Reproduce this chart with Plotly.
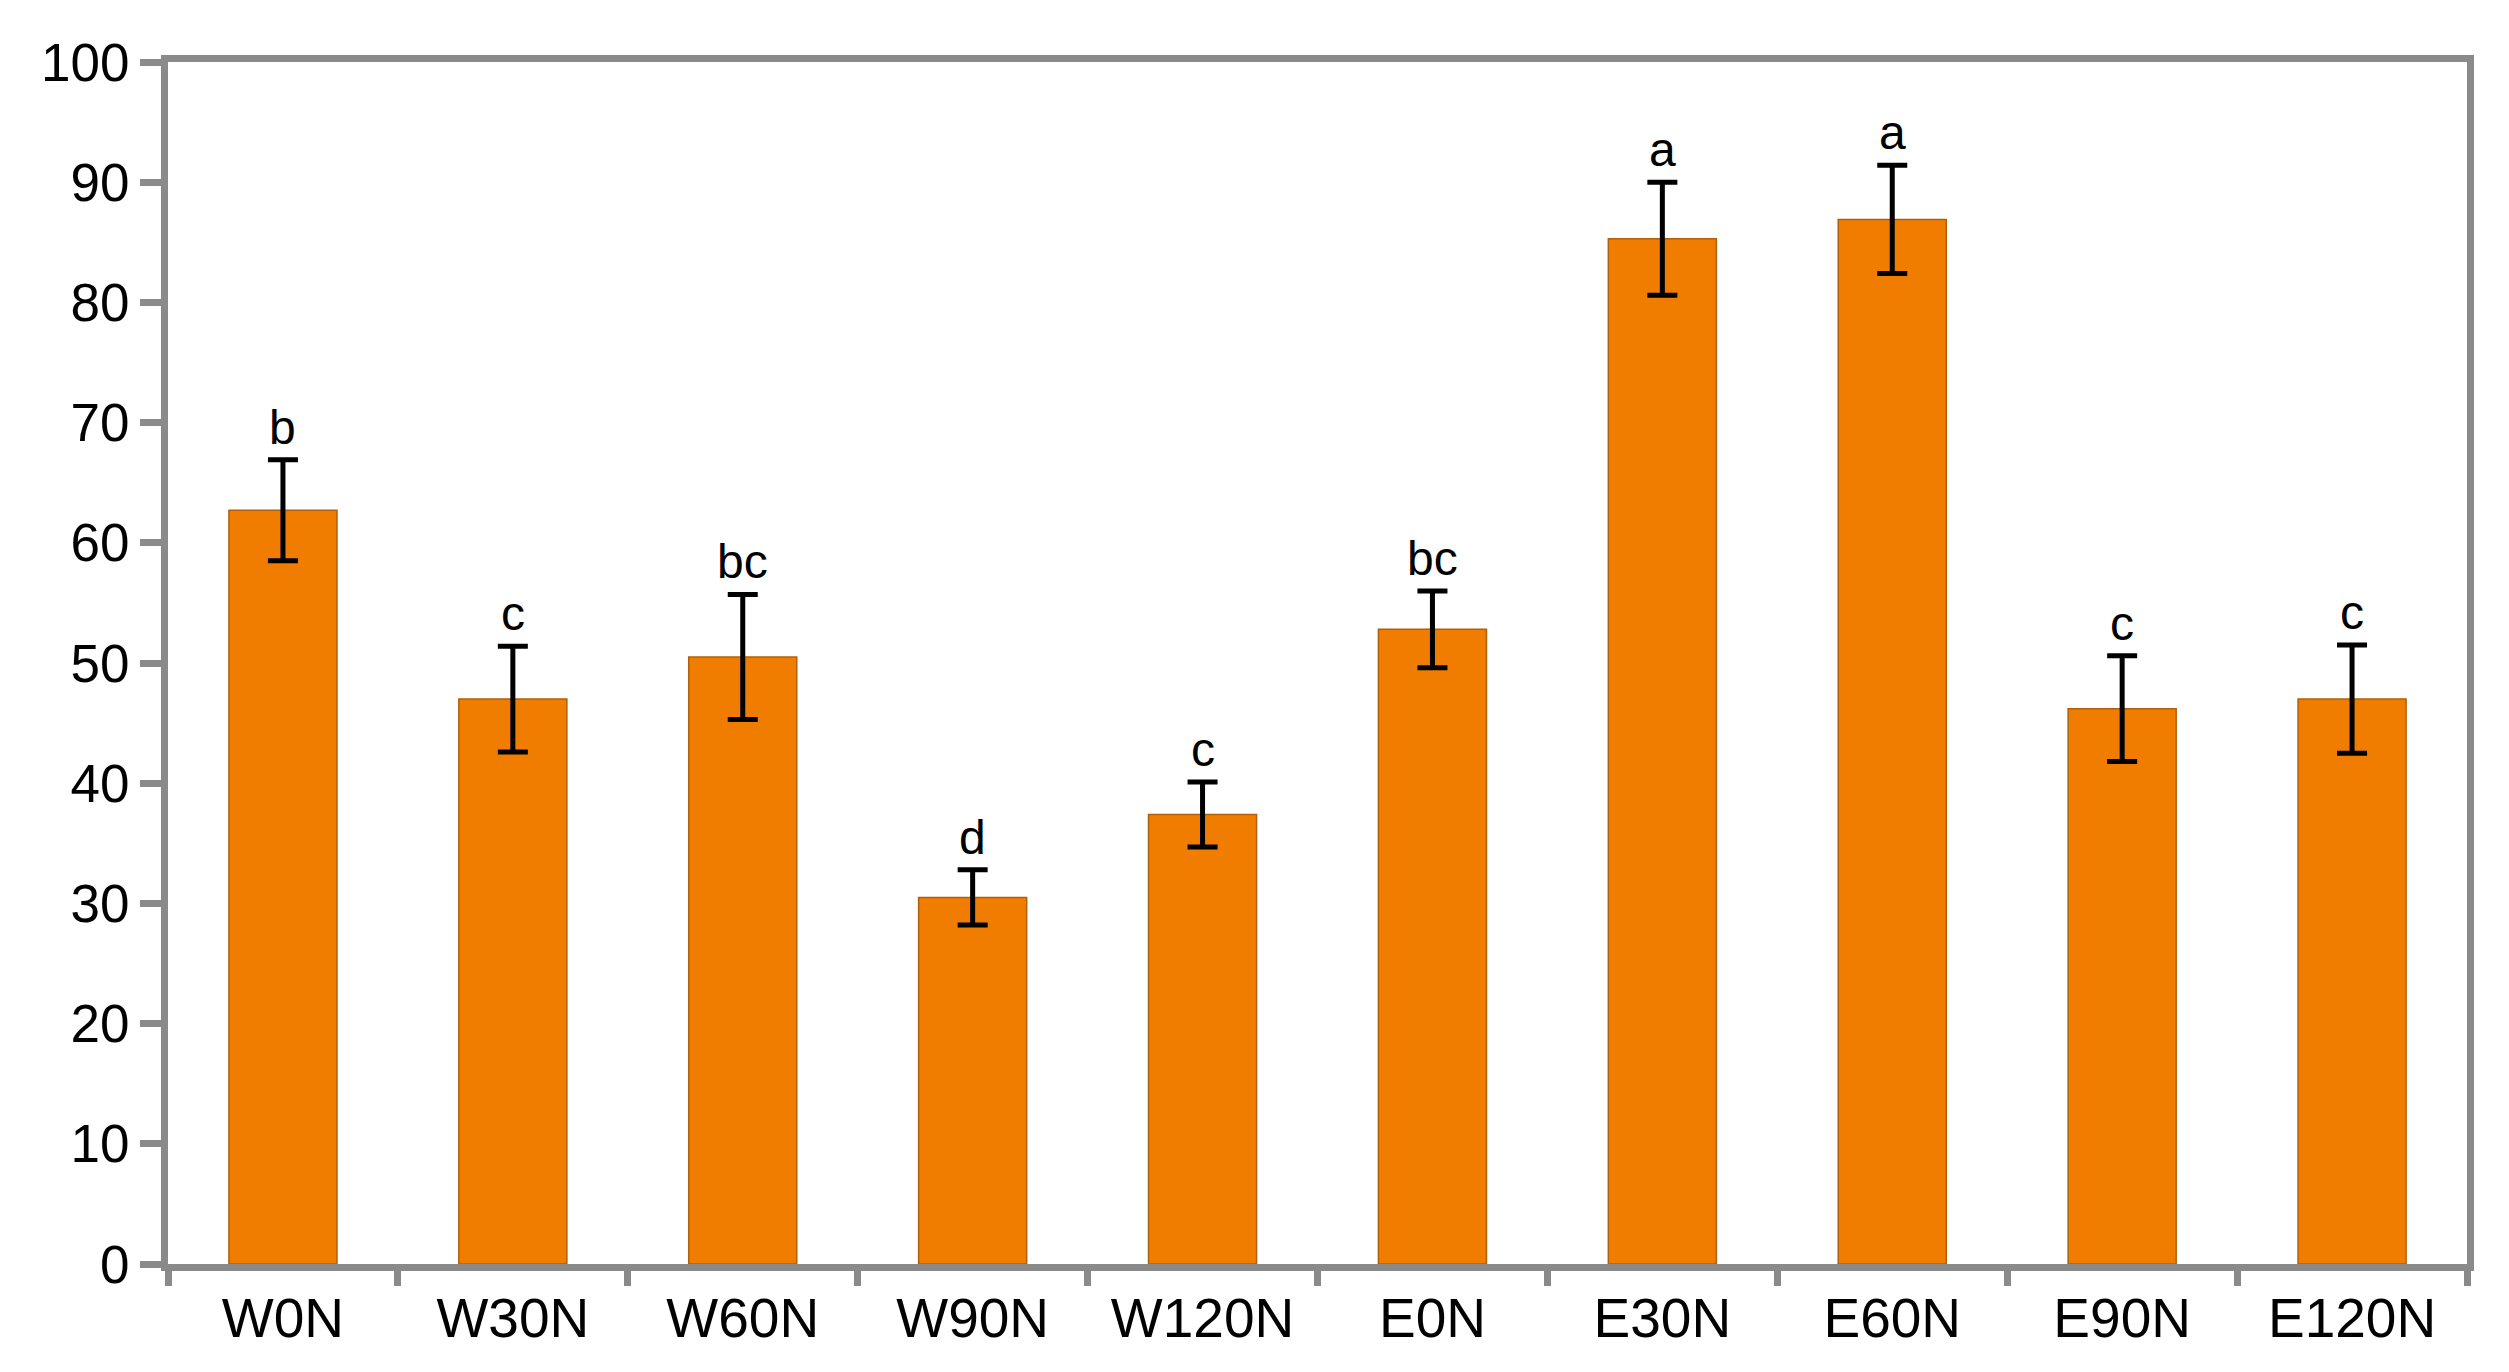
import plotly.graph_objects as go

categories = ["W0N", "W30N", "W60N", "W90N", "W120N", "E0N", "E30N", "E60N", "E90N", "E120N"]
values = [62.7, 47.0, 50.5, 30.5, 37.4, 52.8, 85.3, 86.9, 46.2, 47.0]
errors = [4.2, 4.4, 5.2, 2.3, 2.7, 3.2, 4.7, 4.5, 4.4, 4.5]
letters = ["b", "c", "bc", "d", "c", "bc", "a", "a", "c", "c"]
y_ticks = [0, 10, 20, 30, 40, 50, 60, 70, 80, 90, 100]

AX = "#8a8a8a"
FONT = "Liberation Sans, Arial, sans-serif"

fig = go.Figure()
fig.add_trace(go.Bar(
    x=categories, y=values,
    marker=dict(color="#F07D00", line=dict(color="#B0600A", width=1.5)),
    error_y=dict(type="data", array=errors, visible=True, color="black", thickness=5, width=15),
    width=0.47,
))

for c, v, e, l in zip(categories, values, errors, letters):
    fig.add_annotation(x=c, y=v + e, text=l, showarrow=False, yanchor="bottom", yshift=4,
                       font=dict(family=FONT, size=48, color="black"))

fig.update_layout(
    width=2509, height=1372,
    margin=dict(l=160, r=50, t=54, b=116),
    paper_bgcolor="white", plot_bgcolor="white",
    showlegend=False,
    font=dict(family=FONT, color="black"),
)
fig.update_xaxes(
    range=[-0.5, 9.5], showline=True, linecolor=AX, linewidth=7, mirror=True,
    ticks="outside", tickson="boundaries", ticklen=15, tickwidth=7, tickcolor=AX,
    tickfont=dict(size=55, family=FONT, color="black"), showgrid=False,
)
fig.update_yaxes(
    range=[0, 100], tickvals=y_ticks, showline=True, linecolor=AX, linewidth=7, mirror=True,
    ticks="outside", ticklen=21, tickwidth=7, tickcolor=AX,
    tickfont=dict(size=53, family=FONT, color="black"), showgrid=False, zeroline=False,
)

fig.write_html("out.html")
